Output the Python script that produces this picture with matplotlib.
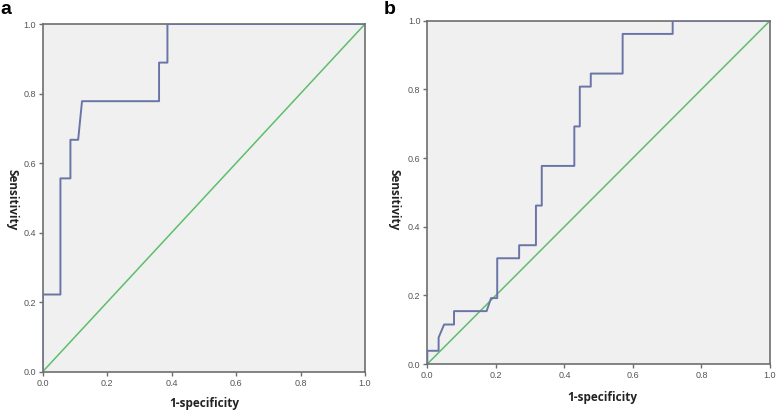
import matplotlib
matplotlib.use("Agg")
import matplotlib.pyplot as plt

# Panel a ROC vertices
fpr_a = [0.0, 0.0, 0.055, 0.055, 0.086, 0.086, 0.11, 0.122, 0.361, 0.361, 0.387, 0.387, 1.0]
tpr_a = [0.0, 0.222, 0.222, 0.556, 0.556, 0.667, 0.667, 0.778, 0.778, 0.889, 0.889, 1.0, 1.0]

# Panel b ROC vertices
fpr_b = [0.0, 0.0, 0.033, 0.033, 0.049, 0.078, 0.078, 0.173, 0.186, 0.204, 0.204, 0.268, 0.268,
         0.317, 0.317, 0.334, 0.334, 0.429, 0.429, 0.445, 0.445, 0.477, 0.477, 0.570, 0.570,
         0.716, 0.716, 1.0]
tpr_b = [0.0, 0.0385, 0.0385, 0.077, 0.115, 0.115, 0.154, 0.154, 0.192, 0.192, 0.308, 0.308, 0.346,
         0.346, 0.4615, 0.4615, 0.577, 0.577, 0.692, 0.692, 0.808, 0.808, 0.846, 0.846, 0.9615,
         0.9615, 1.0, 1.0]

ref = [0.0, 1.0]
ticks = [0.0, 0.2, 0.4, 0.6, 0.8, 1.0]
tick_labels = ["0.0", "0.2", "0.4", "0.6", "0.8", "1.0"]

W, H = 778, 413
fig = plt.figure(figsize=(W / 100, H / 100), dpi=100)
fig.patch.set_facecolor("white")

curve_color = "#6a74a6"
diag_color = "#5cbf6a"
bg = "#f0f0f0"
frame = "#6e6e6e"

def setup(ax, fx, fy):
    ax.set_facecolor(bg)
    ax.plot(ref, ref, color=diag_color, lw=1.1, zorder=2)
    ax.plot(fx, fy, color=curve_color, lw=1.4, zorder=3)
    ax.set_xlim(0, 1)
    ax.set_ylim(0, 1)
    ax.set_xticks(ticks)
    ax.set_yticks(ticks)
    ax.set_xticklabels(tick_labels, family="Liberation Sans", fontsize=6.5, color="#555555")
    ax.set_yticklabels(tick_labels, family="Liberation Sans", fontsize=6.5, color="#555555")
    ax.tick_params(length=3, width=1, color=frame, pad=2)
    for s in ax.spines.values():
        s.set_color(frame)
        s.set_linewidth(1.2)

ax_a = fig.add_axes([42.7 / W, 1 - 371.7 / H, (365 - 42.7) / W, (371.7 - 24) / H])
setup(ax_a, fpr_a, tpr_a)
ax_b = fig.add_axes([427.3 / W, 1 - 364 / H, (770 - 427.3) / W, (364 - 20.7) / H])
setup(ax_b, fpr_b, tpr_b)

lab_kw = dict(family="Open Sans", fontweight="bold", fontsize=8.5, color="#222222")
fig.text(204 / W, 1 - 404 / H, "1-specificity", ha="center", va="center", **lab_kw)
fig.text(602 / W, 1 - 397 / H, "1-specificity", ha="center", va="center", **lab_kw)
fig.text(12 / W, 1 - 200 / H, "Sensitivity", ha="center", va="center", rotation=-90, **lab_kw)
fig.text(394 / W, 1 - 200 / H, "Sensitivity", ha="center", va="center", rotation=-90, **lab_kw)

fig.text(6 / W, 1 - 10 / H, "a", ha="center", va="center", family="Liberation Sans",
         fontweight="bold", fontsize=14)
fig.text(390 / W, 1 - 10 / H, "b", ha="center", va="center", family="Liberation Sans",
         fontweight="bold", fontsize=14)

fig.savefig("out.png", dpi=100)
